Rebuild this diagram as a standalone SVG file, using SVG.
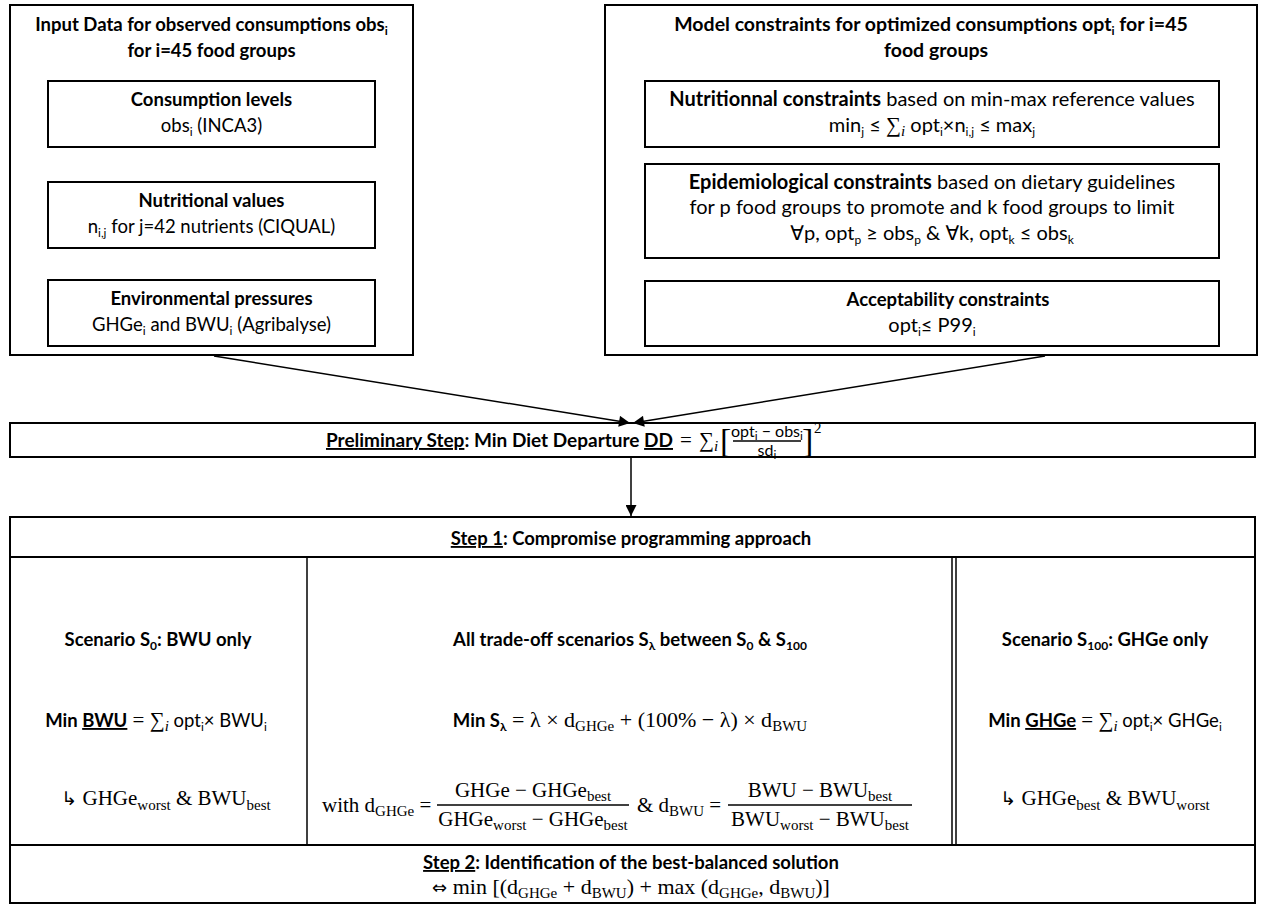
<svg xmlns="http://www.w3.org/2000/svg" width="1263" height="923" viewBox="0 0 1263 923">
<defs>
<style>
.box{fill:#fff;stroke:#000;stroke-width:2}
.ln{stroke:#000;stroke-width:1.5;fill:none}
.ln2{stroke:#000;stroke-width:2;fill:none}
text{font-family:Lato,"Noto Sans","DejaVu Sans",sans-serif;font-size:18.5px;fill:#000}
.c{text-anchor:middle}
.e{text-anchor:end}
.b{font-weight:bold}
.u{text-decoration:underline}
.m{font-family:"Liberation Serif","DejaVu Serif",serif;font-size:21px;font-weight:normal}
.mi{font-family:"Liberation Serif","DejaVu Serif",serif;font-style:italic}
.sy{font-family:"DejaVu Sans",sans-serif;font-weight:normal}
.s{font-size:12px}
.s2{font-size:15px}
.f{font-size:16px}
</style>
<marker id="ah" viewBox="0 0 10 10" refX="10" refY="5" markerUnits="userSpaceOnUse" markerWidth="16" markerHeight="11" orient="auto">
<path d="M0,0 L10,5 L0,10 z" fill="#000"/>
</marker>
</defs>
<rect width="1263" height="923" fill="#fff"/>

<g id="input-data">
<rect class="box" x="10" y="5" width="403" height="350"/>
<text class="c b" x="211.5" y="31">Input Data for observed consumptions obs<tspan class="s" dy="4">i</tspan></text>
<text class="c b" x="211.5" y="57">for i=45 food groups</text>
</g>
<g id="consumption-levels">
<rect class="box" x="48" y="81" width="327" height="66"/>
<text class="c b" x="211.5" y="106">Consumption levels</text>
<text class="c" x="211.5" y="132">obs<tspan class="s" dy="4">i</tspan><tspan dy="-4"> (INCA3)</tspan></text>
</g>
<g id="nutritional-values">
<rect class="box" x="48" y="182" width="327" height="66"/>
<text class="c b" x="211.5" y="207">Nutritional values</text>
<text class="c" x="211.5" y="233">n<tspan class="s" dy="4">i,j</tspan><tspan dy="-4"> for j=42 nutrients (CIQUAL)</tspan></text>
</g>
<g id="environmental-pressures">
<rect class="box" x="48" y="280" width="327" height="66"/>
<text class="c b" x="211.5" y="305">Environmental pressures</text>
<text class="c" x="211.5" y="331">GHGe<tspan class="s" dy="4">i</tspan><tspan dy="-4"> and BWU</tspan><tspan class="s" dy="4">i</tspan><tspan dy="-4"> (Agribalyse)</tspan></text>
</g>

<g id="model-constraints">
<rect class="box" x="605" y="5" width="652" height="350"/>
<text class="c b" x="931" y="31" style="font-size:19.5px">Model constraints for optimized consumptions opt<tspan class="s" dy="4">i</tspan><tspan dy="-4"> for i=45</tspan></text>
<text class="c b" x="936" y="57" style="font-size:19.5px">food groups</text>
</g>
<g id="nutritional-constraints">
<rect class="box" x="645" y="81" width="574" height="66"/>
<text class="c" x="932" y="106" style="font-size:20px"><tspan class="b">Nutritionnal constraints</tspan> based on min-max reference values</text>
<text class="c" x="932" y="132" style="font-size:20px">min<tspan class="s" dy="4">j</tspan><tspan dy="-4"> ≤ </tspan><tspan class="m">∑</tspan><tspan class="mi s2" dy="4">i</tspan><tspan dy="-4"> opt</tspan><tspan class="s" dy="4">i</tspan><tspan dy="-4">×n</tspan><tspan class="s" dy="4">i,j</tspan><tspan dy="-4"> ≤ max</tspan><tspan class="s" dy="4">j</tspan></text>
</g>
<g id="epidemiological-constraints">
<rect class="box" x="645" y="164" width="574" height="94"/>
<text class="c" x="932" y="189" style="font-size:20px"><tspan class="b">Epidemiological constraints</tspan> based on dietary guidelines</text>
<text class="c" x="932" y="214" style="font-size:20px">for p food groups to promote and k food groups to limit</text>
<text class="c" x="932" y="240" style="font-size:20px"><tspan class="sy">∀</tspan>p, opt<tspan class="s" dy="4">p</tspan><tspan dy="-4"> ≥ obs</tspan><tspan class="s" dy="4">p</tspan><tspan dy="-4"> &amp; </tspan><tspan class="sy">∀</tspan>k, opt<tspan class="s" dy="4">k</tspan><tspan dy="-4"> ≤ obs</tspan><tspan class="s" dy="4">k</tspan></text>
</g>
<g id="acceptability-constraints">
<rect class="box" x="645" y="281" width="574" height="65"/>
<text class="c b" x="948" y="306">Acceptability constraints</text>
<text class="c" x="932" y="332" style="font-size:20px">opt<tspan class="s" dy="4">i</tspan><tspan dy="-4">≤ P99</tspan><tspan class="s" dy="4">i</tspan></text>
</g>

<g id="preliminary-step">
<rect class="box" x="10" y="423" width="1245" height="34"/>
<text class="e b" x="673" y="447" style="font-size:19px"><tspan class="u">Preliminary Step</tspan>:  Min Diet Departure <tspan class="u">DD</tspan></text>
<text class="m" x="680" y="447">=</text>
<text class="m" x="699" y="447">∑</text>
<text class="mi s2" x="714" y="451">i</text>
<text class="m" x="720" y="452" style="font-size:34px">[</text>
<text class="c f" x="767" y="437">opt<tspan class="s" dy="3">i</tspan><tspan dy="-3"> − obs</tspan><tspan class="s" dy="3">i</tspan></text>
<line class="ln" x1="733" y1="441" x2="801" y2="441"/>
<text class="c f" x="767" y="456">sd<tspan class="s" dy="3">i</tspan></text>
<text class="m" x="802" y="452" style="font-size:34px">]</text>
<text class="m" x="814" y="433" style="font-size:15px">2</text>
</g>

<g id="steps">
<rect class="box" x="10" y="517" width="1245" height="386"/>
<line class="ln2" x1="10" y1="557" x2="1255" y2="557"/>
<line class="ln2" x1="10" y1="845" x2="1255" y2="845"/>
<line class="ln" x1="307" y1="557" x2="307" y2="845"/>
<line class="ln" x1="952" y1="557" x2="952" y2="845"/>
<line class="ln" x1="956" y1="557" x2="956" y2="845"/>
<text class="c b" x="631" y="545"><tspan class="u">Step 1</tspan>: Compromise programming approach</text>
</g>

<g id="scenario-s0">
<text class="c b" x="158" y="646">Scenario S<tspan class="s" dy="4">0</tspan><tspan dy="-4">: BWU only</tspan></text>
<text class="c" x="156" y="727"><tspan class="b">Min </tspan><tspan class="b u">BWU</tspan><tspan class="m"> =  ∑</tspan><tspan class="mi s2" dy="4">i</tspan><tspan dy="-4"> opt</tspan><tspan class="s" dy="4">i</tspan><tspan dy="-4">× BWU</tspan><tspan class="s" dy="4">i</tspan></text>
<text class="c m" x="166" y="805"><tspan class="sy" style="font-size:19px">↳</tspan> GHGe<tspan class="s2" dy="5">worst</tspan><tspan dy="-5"> &amp; BWU</tspan><tspan class="s2" dy="5">best</tspan></text>
</g>

<g id="trade-off-scenarios">
<text class="c b" x="630" y="646">All trade-off scenarios S<tspan class="s" dy="4">λ</tspan><tspan dy="-4"> between S</tspan><tspan class="s" dy="4">0</tspan><tspan dy="-4"> &amp; S</tspan><tspan class="s" dy="4">100</tspan></text>
<text class="c" x="630" y="727"><tspan class="b">Min S</tspan><tspan class="b s" dy="4">λ</tspan><tspan class="m" dy="-4" style="font-size:22px"> =  λ × d</tspan><tspan class="m s2" dy="4">GHGe</tspan><tspan class="m" dy="-4" style="font-size:22px"> + (100% − λ) × d</tspan><tspan class="m s2" dy="4">BWU</tspan></text>
<text class="m" x="322" y="812">with d<tspan class="s2" dy="4">GHGe</tspan><tspan dy="-4"> =</tspan></text>
<text class="c m" x="533" y="797">GHGe − GHGe<tspan class="s2" dy="4">best</tspan></text>
<line class="ln" x1="437" y1="805" x2="629" y2="805"/>
<text class="c m" x="533" y="826">GHGe<tspan class="s2" dy="4">worst</tspan><tspan dy="-4"> − GHGe</tspan><tspan class="s2" dy="4">best</tspan></text>
<text class="m" x="637" y="812">&amp; d<tspan class="s2" dy="4">BWU</tspan><tspan dy="-4"> =</tspan></text>
<text class="c m" x="820" y="797">BWU − BWU<tspan class="s2" dy="4">best</tspan></text>
<line class="ln" x1="728" y1="805" x2="912" y2="805"/>
<text class="c m" x="820" y="826">BWU<tspan class="s2" dy="4">worst</tspan><tspan dy="-4"> − BWU</tspan><tspan class="s2" dy="4">best</tspan></text>
</g>

<g id="scenario-s100">
<text class="c b" x="1105" y="646">Scenario S<tspan class="s" dy="4">100</tspan><tspan dy="-4">:  GHGe only</tspan></text>
<text class="c" x="1105" y="727"><tspan class="b">Min </tspan><tspan class="b u">GHGe</tspan><tspan class="m"> = ∑</tspan><tspan class="mi s2" dy="4">i</tspan><tspan dy="-4"> opt</tspan><tspan class="s" dy="4">i</tspan><tspan dy="-4">× GHGe</tspan><tspan class="s" dy="4">i</tspan></text>
<text class="c m" x="1105" y="805"><tspan class="sy" style="font-size:19px">↳</tspan> GHGe<tspan class="s2" dy="5">best</tspan><tspan dy="-5"> &amp; BWU</tspan><tspan class="s2" dy="5">worst</tspan></text>
</g>

<g id="step-2">
<text class="c b" x="631" y="869"><tspan class="u">Step 2</tspan>: Identification of the best-balanced solution</text>
<text class="c m" x="631" y="894" style="font-size:22px"><tspan class="sy" style="font-size:18px">⇔</tspan>  min [(d<tspan class="s2" dy="4">GHGe</tspan><tspan dy="-4"> +  d</tspan><tspan class="s2" dy="4">BWU</tspan><tspan dy="-4">) + max  (d</tspan><tspan class="s2" dy="4">GHGe</tspan><tspan dy="-4">, d</tspan><tspan class="s2" dy="4">BWU</tspan><tspan dy="-4">)]</tspan></text>
</g>

<g id="connectors">
<line class="ln" x1="214" y1="356" x2="630" y2="423" marker-end="url(#ah)"/>
<line class="ln" x1="1045" y1="356" x2="633" y2="423" marker-end="url(#ah)"/>
<line class="ln" x1="631" y1="457" x2="631" y2="516" marker-end="url(#ah)"/>
</g>
</svg>
